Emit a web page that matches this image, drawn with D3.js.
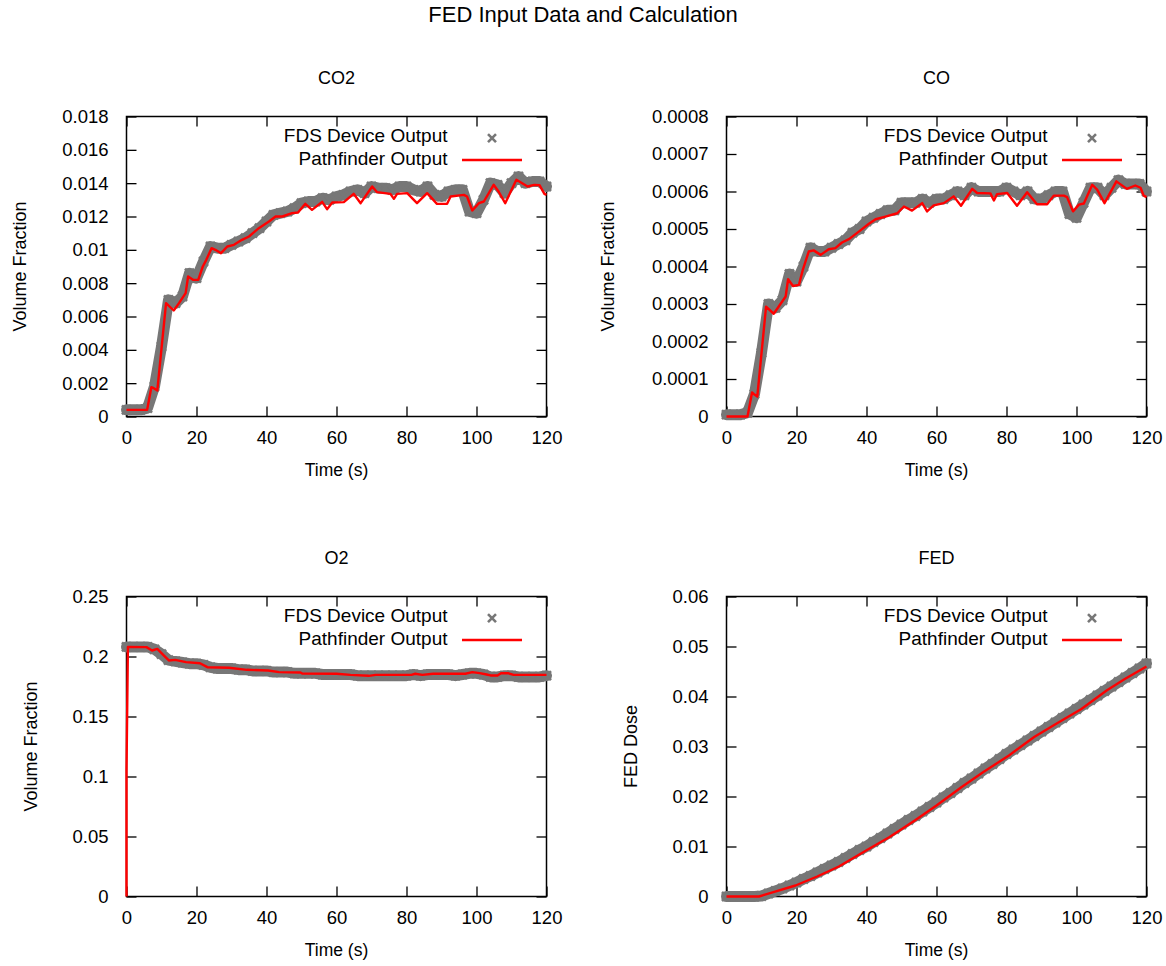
<!DOCTYPE html>
<html><head><meta charset="utf-8">
<script src="https://cdn.jsdelivr.net/npm/d3@7"></script>
<style>
body{margin:0;background:#fff}
svg{display:block}
text{font-family:"Liberation Sans",Arial,Helvetica,sans-serif;fill:#000}
</style>
</head><body>
<svg id="c" width="1166" height="966"></svg>
<script>
// ---------------- DATA ----------------
const chartTitle = "FED Input Data and Calculation";
const panelTitles = ["CO2", "CO", "O2", "FED"];
const yLabels = ["Volume Fraction", "Volume Fraction", "Volume Fraction", "FED Dose"];
const legendLabels = ["FDS Device Output", "Pathfinder Output"];
const xLabel = "Time (s)";
const xTicks = [0, 20, 40, 60, 80, 100, 120];
const co2Ticks = [0, 0.002, 0.004, 0.006, 0.008, 0.01, 0.012, 0.014, 0.016, 0.018];
const coTicks = [0, 0.0001, 0.0002, 0.0003, 0.0004, 0.0005, 0.0006, 0.0007, 0.0008];
const o2Ticks = [0, 0.05, 0.1, 0.15, 0.2, 0.25];
const fedTicks = [0, 0.01, 0.02, 0.03, 0.04, 0.05, 0.06];

// FDS device output (sampled every 2 s)
const fdsTime = [0,2,4,6,8,10,12,14,16,18,20,22,24,26,28,30,32,34,36,38,40,42,44,46,48,50,52,54,56,58,60,62,64,66,68,70,72,74,76,78,80,82,84,86,88,90,92,94,96,98,100,102,104,106,108,110,112,114,116,118,120];
const co2Fds = [0.0004,0.0004,0.0004,0.0005,0.0018,0.0042,0.0070,0.0068,0.0072,0.0086,0.0083,0.0093,0.0102,0.0101,0.0101,0.0103,0.0105,0.0107,0.0110,0.0113,0.0117,0.0121,0.0122,0.0123,0.0125,0.0128,0.0129,0.0129,0.0131,0.0130,0.0132,0.0133,0.0135,0.0136,0.0134,0.0138,0.0137,0.0137,0.0136,0.0138,0.0138,0.0136,0.0135,0.0138,0.0133,0.0132,0.0135,0.0136,0.0136,0.0123,0.0122,0.0130,0.0140,0.0139,0.0134,0.0140,0.0144,0.0140,0.0141,0.0141,0.0138];
const coFds = [0.000005,0.000005,0.000005,0.00001,0.00006,0.00017,0.00030,0.00029,0.00031,0.00038,0.00036,0.00040,0.00045,0.00044,0.00044,0.00045,0.00046,0.00047,0.00049,0.00050,0.00052,0.00053,0.00054,0.00055,0.00055,0.00057,0.00057,0.00057,0.00058,0.00057,0.00058,0.00058,0.00059,0.00060,0.00059,0.00061,0.00060,0.00060,0.00060,0.00060,0.00061,0.00060,0.00059,0.00060,0.00058,0.00058,0.00059,0.00060,0.00060,0.00054,0.00053,0.00057,0.00061,0.00061,0.00059,0.00061,0.00063,0.00062,0.00062,0.00062,0.00060];
const o2Fds = [0.208,0.208,0.208,0.208,0.206,0.202,0.197,0.196,0.195,0.194,0.194,0.193,0.191,0.190,0.190,0.190,0.189,0.189,0.188,0.188,0.188,0.187,0.187,0.187,0.186,0.186,0.186,0.186,0.185,0.185,0.185,0.185,0.185,0.184,0.184,0.184,0.184,0.184,0.184,0.184,0.184,0.185,0.184,0.185,0.185,0.185,0.185,0.184,0.185,0.186,0.186,0.185,0.183,0.183,0.184,0.184,0.183,0.183,0.183,0.183,0.184];
const fedFds = [0,0,0,0,0,0.0001,0.0006,0.0011,0.0016,0.0022,0.0028,0.0035,0.0041,0.0048,0.0055,0.0062,0.0069,0.0077,0.0085,0.0093,0.0100,0.0109,0.0117,0.0126,0.0135,0.0144,0.0153,0.0161,0.0170,0.0179,0.0188,0.0198,0.0207,0.0217,0.0227,0.0236,0.0246,0.0256,0.0265,0.0275,0.0285,0.0294,0.0303,0.0312,0.0321,0.0330,0.0339,0.0348,0.0357,0.0366,0.0375,0.0384,0.0393,0.0402,0.0411,0.0420,0.0429,0.0438,0.0447,0.0456,0.0466];

// Pathfinder output
const co2PfTime = [0,5.9,7.1,7.8,8.8,11.3,13.5,15,16.9,17.6,19,20.5,21.8,22.8,24.3,25.4,27,28.8,30.7,33,35,37.8,40.7,42.6,44.5,47.3,49,51.1,53,55.9,57.3,58.8,62.1,64.9,66.9,70.2,71.6,75.4,76.4,77.3,80.2,83,85.9,88.7,91.6,92.6,96.4,97.3,98.8,100.7,102.1,104.9,106.3,108.2,111.4,114.6,116.5,118,119.4,120];
const co2Pf = [0.0004,0.0004,0.00176,0.0017,0.00156,0.0068,0.00636,0.0068,0.0074,0.0084,0.0082,0.0082,0.009,0.0094,0.0101,0.0100,0.0098,0.0102,0.0103,0.0106,0.0108,0.0113,0.0117,0.0120,0.0120,0.0122,0.01224,0.01276,0.0124,0.01288,0.01244,0.01284,0.01286,0.01336,0.0128,0.0138,0.01346,0.01336,0.01306,0.01336,0.0134,0.0128,0.0134,0.01276,0.01276,0.0132,0.0133,0.0132,0.01236,0.0128,0.0129,0.0139,0.0135,0.0128,0.0142,0.0138,0.0139,0.01388,0.01336,0.0133];
const coPfTime = [0,6,7.3,7.8,8.8,11.3,13.5,16.9,17.6,19,20.7,21.8,23.5,24.9,26.9,29.2,31.1,33,35,37.8,40.7,42.6,45.4,48.8,50.7,53,55.9,57.3,59.2,62.1,64.9,67,70.2,71.6,75.4,76.4,77.3,80.2,83,85.9,88.7,91.6,93.5,96.4,97.3,99,100.7,102.1,104.5,105.9,108,111.4,114.4,116.8,118.3,119.2,120];
const coPf = [0,0,0.000064,0.00006,0.000053,0.000293,0.000274,0.00032,0.000366,0.000348,0.000351,0.000391,0.00044,0.000443,0.000431,0.000446,0.000449,0.000464,0.000473,0.000493,0.000514,0.000526,0.000533,0.000542,0.00056,0.000549,0.000569,0.000547,0.000563,0.000569,0.000587,0.000562,0.000607,0.000596,0.000595,0.000576,0.000593,0.000596,0.000562,0.000598,0.000566,0.000566,0.000589,0.000589,0.000585,0.000547,0.000565,0.000568,0.000618,0.000605,0.000569,0.000627,0.000607,0.000616,0.00061,0.000589,0.000585];
const o2PfTime = [0,0,0.4,5.7,7.3,8.8,10.7,12.1,13.9,17,21,23.1,29.3,34.4,40.5,43.6,49.7,50.2,60,64,69.2,71.2,81.4,82.5,84.5,87.6,96.8,98.8,100.9,102.9,104,106,107,109,110.6,120];
const o2Pf = [0,0.105,0.208,0.2078,0.205,0.2063,0.2008,0.1967,0.1972,0.1953,0.1944,0.1911,0.1906,0.1889,0.1883,0.187,0.1867,0.1858,0.1856,0.1847,0.1839,0.1847,0.1847,0.1856,0.1847,0.1856,0.1856,0.187,0.1861,0.185,0.1842,0.1842,0.1861,0.1861,0.1847,0.1847];
const fedPfTime = [0,9.3,13.4,19.7,25.9,32.1,39.9,46.6,53.8,60,67.2,73.4,80.7,87.9,94.1,101.4,108.6,113.8,120];
const fedPf = [0,0,0.00087,0.0022,0.004,0.006,0.0092,0.0119,0.0152,0.0182,0.0219,0.0249,0.0282,0.0319,0.0345,0.0375,0.0412,0.0435,0.046];

// ---------------- LAYOUT ----------------
const W = 420, H = 300;
const GRAY = "#777777", RED = "#ff0000";
const panels = [
  {left:126.5, top:116.5, ticks:co2Ticks, fds:co2Fds, pfT:co2PfTime, pf:co2Pf, ylx:20},
  {left:726.5, top:116.5, ticks:coTicks,  fds:coFds,  pfT:coPfTime,  pf:coPf,  ylx:608},
  {left:126.5, top:596.5, ticks:o2Ticks,  fds:o2Fds,  pfT:o2PfTime,  pf:o2Pf,  ylx:31},
  {left:726.5, top:596.5, ticks:fedTicks, fds:fedFds, pfT:fedPfTime, pf:fedPf, ylx:631}
];

const svg = d3.select("#c");
svg.append("rect").attr("width",1166).attr("height",966).attr("fill","#fff");
svg.append("text").attr("x",583).attr("y",22).attr("text-anchor","middle")
   .attr("font-size",22).text(chartTitle);

const fmt = d3.format(".4~f");
const xMark = s => `M${-s},${-s}L${s},${s}M${-s},${s}L${s},${-s}`;

panels.forEach((p, i) => {
  const g = svg.append("g").attr("transform", `translate(${p.left},${p.top})`);
  const x = d3.scaleLinear().domain([0,120]).range([0,W]);
  const y = d3.scaleLinear().domain([0,p.ticks[p.ticks.length-1]]).range([H,0]);

  const styleAxis = a => {
    a.select(".domain").remove();
    a.selectAll("line").attr("stroke","#000").attr("stroke-width",1.3);
    a.attr("font-family",null).attr("font-size",null);
    a.selectAll("text").attr("font-size",18.5).attr("fill","#000");
  };
  g.append("g").attr("transform",`translate(0,${H})`)
   .call(d3.axisBottom(x).tickValues(xTicks).tickSize(-10).tickPadding(14).tickFormat(d3.format("d"))).call(styleAxis);
  g.append("g").call(d3.axisTop(x).tickValues(xTicks).tickSize(-10).tickFormat("")).call(styleAxis);
  g.append("g").call(d3.axisLeft(y).tickValues(p.ticks).tickSize(-10).tickPadding(18).tickFormat(fmt)).call(styleAxis);
  g.append("g").attr("transform",`translate(${W},0)`)
   .call(d3.axisRight(y).tickValues(p.ticks).tickSize(-10).tickFormat("")).call(styleAxis);

  g.append("rect").attr("width",W).attr("height",H).attr("fill","none")
   .attr("stroke","#000").attr("stroke-width",1.5);

  // titles & labels
  g.append("text").attr("x",W/2).attr("y",-32.5).attr("text-anchor","middle")
   .attr("font-size",18).text(panelTitles[i]);
  g.append("text").attr("x",W/2).attr("y",H+59.5).attr("text-anchor","middle")
   .attr("font-size",17.5).text(xLabel);
  g.append("text").attr("transform",`translate(${p.ylx - p.left},${H/2}) rotate(-90)`)
   .attr("text-anchor","middle").attr("dy","0.35em").attr("font-size",18).text(yLabels[i]);

  // FDS band (points)
  const fdsData = fdsTime.map((t,k) => [t, p.fds[k]]);
  g.append("path").datum(fdsData)
   .attr("d", d3.line().x(d=>x(d[0])).y(d=>y(d[1])))
   .attr("fill","none").attr("stroke",GRAY).attr("stroke-width",11)
   .attr("stroke-linejoin","round").attr("stroke-linecap","round");
  g.append("g").selectAll("path").data(fdsData).join("path")
   .attr("transform", d => `translate(${x(d[0])},${y(d[1])})`)
   .attr("d", xMark(4.5)).attr("stroke",GRAY).attr("stroke-width",2.6).attr("fill","none");

  // Pathfinder line
  const pfData = p.pfT.map((t,k) => [t, p.pf[k]]);
  g.append("path").datum(pfData)
   .attr("d", d3.line().x(d=>x(d[0])).y(d=>y(d[1])))
   .attr("fill","none").attr("stroke",RED).attr("stroke-width",2.4)
   .attr("stroke-linejoin","round");

  // legend
  const lg = g.append("g");
  lg.append("text").attr("x",321).attr("y",25.5).attr("text-anchor","end")
    .attr("font-size",19).text(legendLabels[0]);
  lg.append("path").attr("transform","translate(365.5,21.6)").attr("d",xMark(4))
    .attr("stroke",GRAY).attr("stroke-width",2.6).attr("fill","none");
  lg.append("text").attr("x",321).attr("y",48).attr("text-anchor","end")
    .attr("font-size",19).text(legendLabels[1]);
  lg.append("line").attr("x1",335.5).attr("x2",395.5).attr("y1",43.5).attr("y2",43.5)
    .attr("stroke",RED).attr("stroke-width",2.4);
});
</script>
</body></html>
